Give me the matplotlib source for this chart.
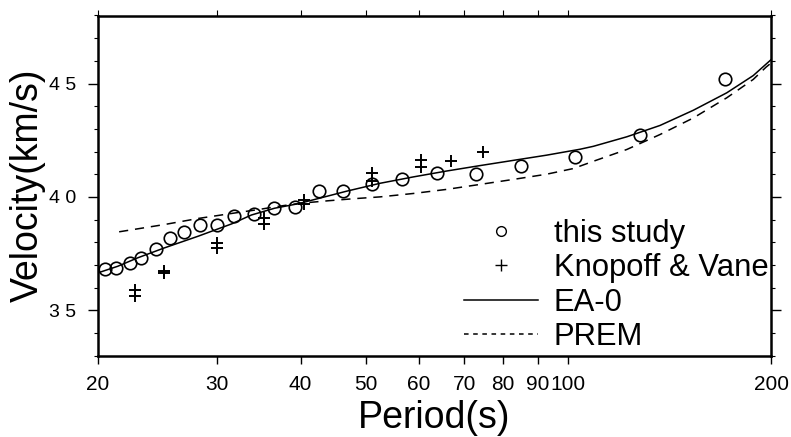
import numpy as np
import matplotlib
matplotlib.use("Agg")
import matplotlib.pyplot as plt
from matplotlib.lines import Line2D
from matplotlib.ticker import MultipleLocator, NullLocator

plt.rcParams['font.family'] = ['Liberation Sans', 'DejaVu Sans']

# this study (period s, group velocity km/s)
study_period = [20.5, 21.3, 22.3, 23.2, 24.4, 25.6, 26.8, 28.4, 30.0, 31.9, 34.1,
                36.5, 39.3, 42.6, 46.2, 51.1, 56.5, 63.7, 72.8, 85.0, 102.2,
                127.7, 170.8]
study_vel = [3.68, 3.686, 3.708, 3.73, 3.77, 3.818, 3.844, 3.875, 3.875, 3.915, 3.924,
             3.95, 3.956, 4.025, 4.025, 4.058, 4.079, 4.106, 4.101, 4.138, 4.175,
             4.272, 4.52]

# Knopoff & Vane
kv_period = [22.7, 22.7, 25.1, 25.1, 30.0, 30.0, 35.3, 35.3, 40.4, 40.4,
             51.0, 51.0, 60.4, 60.4, 67.0, 74.7]
kv_vel = [3.59, 3.565, 3.672, 3.665, 3.797, 3.775, 3.905, 3.882, 3.985, 3.97,
          4.105, 4.07, 4.162, 4.13, 4.16, 4.198]

# EA-0 model curve
ea0_period = [20, 21.4, 22.9, 25.1, 28.2, 31.6, 33.8, 36.6, 39.7, 46.8, 52.5,
              58.8, 65.9, 73.9, 82.8, 92.8, 104, 108.9, 122.1, 136.8, 153.3,
              171.9, 188.2, 200]
ea0_vel = [3.665, 3.694, 3.731, 3.775, 3.827, 3.881, 3.92, 3.95, 3.97, 4.025, 4.06,
           4.088, 4.114, 4.138, 4.161, 4.184, 4.21, 4.223, 4.265, 4.315, 4.382,
           4.459, 4.535, 4.605]

# PREM curve
prem_period = [21.5, 25.1, 28.2, 31.6, 34.6, 37, 40, 44, 48, 52.5, 58.8, 65.9,
               73.9, 82.8, 92.8, 101.7, 108.9, 122.1, 136.8, 153.3, 171.9,
               188.2, 196.6, 200]
prem_vel = [3.846, 3.878, 3.905, 3.927, 3.944, 3.958, 3.972, 3.983, 3.992, 4.0,
            4.015, 4.033, 4.055, 4.077, 4.1, 4.125, 4.157, 4.209, 4.275, 4.348,
            4.437, 4.518, 4.572, 4.59]

xticks = [20, 30, 40, 50, 60, 70, 80, 90, 100, 200]
yticks = [3.5, 4.0, 4.5]
ytick_labels = ['3 5', '4 0', '4 5']

fig = plt.figure(figsize=(7.91, 4.37), dpi=100)
ax = fig.add_axes([98 / 791, 1 - 355.6 / 437, 673 / 791, 340.1 / 437])

ax.plot(ea0_period, ea0_vel, color='black', lw=1.1)
ax.plot(prem_period, prem_vel, color='black', lw=1.1, ls=(0, (6, 4.5)))
ax.plot(kv_period, kv_vel, ls='none', marker='+', ms=9, mew=1.4, color='black')
ax.plot(study_period, study_vel, ls='none', marker='o', ms=9, mfc='none',
        mec='black', mew=1.2)

ax.set_xscale('log')
ax.set_xlim(20, 200)
ax.set_ylim(3.3, 4.8)
ax.set_xticks(xticks)
ax.set_xticklabels([str(t) for t in xticks])
ax.xaxis.set_minor_locator(NullLocator())
ax.set_yticks(yticks)
ax.set_yticklabels(ytick_labels)
ax.yaxis.set_minor_locator(MultipleLocator(0.1))

for s in ax.spines.values():
    s.set_linewidth(1.8)

ax.tick_params(axis='x', which='major', direction='out', length=6, width=1.0,
               labelsize=15, pad=8, top=True)
ax.tick_params(axis='y', which='major', direction='out', length=7, width=1.0,
               labelsize=14, pad=9, right=True)
ax.tick_params(axis='y', which='minor', direction='out', length=3, width=0.8,
               right=True)
for t in ax.xaxis.get_major_ticks():
    t.tick2line.set_markersize(4)
    t.tick2line.set_markeredgewidth(0.8)

ax.set_xlabel('Period(s)', fontsize=27, labelpad=4)
ax.set_ylabel('Velocity(km/s)', fontsize=27, labelpad=2)

handles = [
    Line2D([], [], ls='none', marker='o', ms=7, mfc='none', mec='black', mew=1.0),
    Line2D([], [], ls='none', marker='+', ms=8, mew=1.0, color='black'),
    Line2D([], [], color='black', lw=1.1),
    Line2D([], [], color='black', lw=1.1, ls=(0, (3, 3))),
]
labels = ['this study', 'Knopoff & Vane', 'EA-0', 'PREM']
ax.legend(handles, labels, loc='upper left', bbox_to_anchor=(0.544, 0.402),
          frameon=False, fontsize=22.3, handlelength=2.4, handletextpad=0.5,
          labelspacing=0.14, borderpad=0, borderaxespad=0)

fig.savefig('out.png', dpi=100)
